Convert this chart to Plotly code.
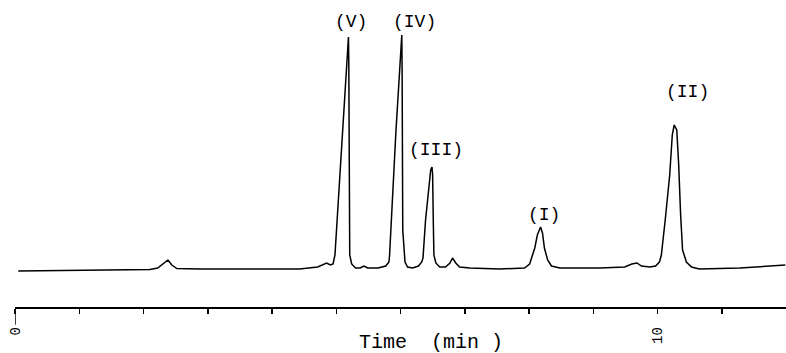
import plotly.graph_objects as go

# Chromatogram trace (time in min, detector signal in arbitrary units)
time_min = [0.05, 1.01, 1.94, 2.10, 2.22, 2.30, 2.38, 2.44, 2.52, 2.88, 3.65, 4.43,
            4.71, 4.79, 4.85, 4.91, 4.95, 4.98, 5.04, 5.10, 5.16, 5.19, 5.195, 5.20,
            5.205, 5.21, 5.24, 5.30, 5.37, 5.43, 5.49, 5.65, 5.77, 5.82, 5.83, 5.88,
            5.93, 5.99, 6.02, 6.025, 6.03, 6.035, 6.07, 6.11, 6.19, 6.28, 6.33, 6.35,
            6.39, 6.44, 6.47, 6.49, 6.50, 6.51, 6.52, 6.55, 6.61, 6.70, 6.77, 6.81,
            6.86, 6.92, 7.08, 7.54, 7.93, 8.01, 8.04, 8.09, 8.13, 8.18, 8.21, 8.24,
            8.29, 8.35, 8.48, 9.10, 9.49, 9.60, 9.68, 9.75, 9.88, 9.97, 10.03, 10.06,
            10.12, 10.19, 10.23, 10.26, 10.30, 10.33, 10.36, 10.39, 10.45, 10.53,
            10.65, 11.28, 11.99]
signal = [1, 1.5, 2, 2.5, 4, 8, 12, 7, 3.5, 3, 3, 3,
          5, 7, 9, 7, 8, 17, 82, 147, 205, 235, 212, 152,
          72, 17, 8, 4, 4, 6, 4, 4, 6, 10, 17, 82,
          142, 205, 237, 202, 122, 42, 10, 5, 4, 6, 10, 14,
          52, 82, 102, 105, 97, 52, 17, 9, 5, 5, 9, 14,
          9, 5, 4, 3, 4, 8, 14, 24, 37, 45, 39, 24,
          12, 6, 4, 4, 5, 8, 9, 6, 5, 6, 10, 17,
          52, 97, 137, 147, 142, 107, 57, 22, 10, 5,
          3, 4, 7]

tick_vals = [0, 1, 2, 3, 4, 5, 6, 7, 8, 9, 10, 11]
tick_text = ["0", "", "", "", "", "", "", "", "", "", "10", ""]

peak_labels = ["(V)", "(IV)", "(III)", "(I)", "(II)"]
label_time = [5.23, 6.22, 6.56, 8.24, 10.47]
label_signal = [250, 250, 122, 57, 180]

FONT = "Liberation Mono"

fig = go.Figure()
fig.add_trace(go.Scatter(x=time_min, y=signal, mode="lines",
                         line=dict(color="black", width=1.5),
                         hoverinfo="skip", showlegend=False))

for lab, t, s in zip(peak_labels, label_time, label_signal):
    fig.add_annotation(x=t, y=s, text=lab, showarrow=False,
                       font=dict(family=FONT, size=18, color="black"),
                       xanchor="center", yanchor="middle")

fig.add_annotation(xref="paper", yref="paper", x=0.54, y=-0.121,
                   text="Time  (min )", showarrow=False,
                   font=dict(family=FONT, size=20, color="black"),
                   xanchor="center", yanchor="middle")

# longer tick at the origin
fig.add_shape(type="line", xref="x", yref="paper", x0=0, x1=0, y0=0, y1=-0.06,
              line=dict(color="black", width=1.5))

fig.update_layout(
    width=786, height=353,
    margin=dict(l=15, r=0, t=10, b=46, autoexpand=False),
    paper_bgcolor="white", plot_bgcolor="white",
    xaxis=dict(range=[0, 12], showgrid=False, zeroline=False, automargin=False,
               showline=True, linecolor="black", linewidth=1.5,
               ticks="outside", ticklen=5, tickwidth=1.5, tickcolor="black",
               tickvals=tick_vals, ticktext=tick_text, tickangle=-90,
               ticklabelstandoff=8,
               tickfont=dict(family=FONT, size=14, color="black")),
    yaxis=dict(range=[-35, 262], visible=False, showgrid=False, zeroline=False,
               automargin=False),
)

fig.write_html("out.html",
               config={"displayModeBar": False, "staticPlot": True},
               post_script="document.body.style.margin='0';"
                           "document.body.style.overflow='hidden';")
